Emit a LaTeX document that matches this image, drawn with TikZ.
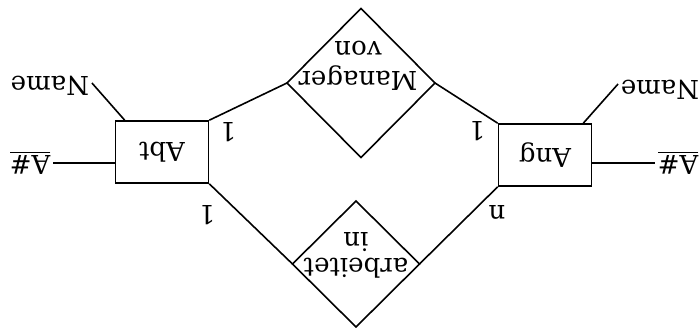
\documentclass[tikz,border=0pt]{standalone}
\usepackage{fontspec}
\setmainfont{DejaVu Serif}
\usetikzlibrary{shapes.geometric}

\tikzset{
  entity/.style={draw, rectangle, minimum width=46.5pt, minimum height=31pt, inner sep=0pt},
  relship/.style={draw, diamond, inner sep=0pt, outer sep=0pt},
  attr/.style={inner sep=1pt},
  card/.style={inner sep=0pt}
}

\begin{document}
\begin{tikzpicture}[x=0.5pt, y=-0.5pt, rotate=180, transform shape, line width=0.8pt,
  every node/.style={font=\fontsize{13}{15}\selectfont}]
  \useasboundingbox (0,0) rectangle (700,327);

  % entities
  \node[entity] (ang) at (155,172) {Ang};
  \node[entity] (abt) at (538,175) {Abt};

  % relationships
  \node[relship, minimum width=74pt, minimum height=74.5pt] (mgr) at (339,244) {};
  \node[relship, minimum width=63.5pt, minimum height=63pt] (arb) at (344,63) {};
  \node[align=center] (mgrtext) at (342,261) {Manager\\von};
  \node[align=center] (arbtext) at (344,72) {arbeitet\\[-2pt]in};

  % attributes
  \node[attr] (abtkey) at (670,164) {\underline{A\#}};
  \node[attr] (abtname) at (650,241) {Name};
  \node[attr] (angkey) at (22,164) {\underline{A\#}};
  \node[attr] (angname) at (40,237) {Name};

  \draw (abt.south west) -- (mgr.east);
  \draw (abt.north west) -- (arb.east);
  \draw (ang.south east) -- (mgr.west);
  \draw (ang.north east) -- (arb.west);

  \draw (abtkey.west) -- (abtkey.west -| abt.east);
  \draw (angkey.east) -- (angkey.east -| ang.west);
  \draw ([xshift=-5pt]abt.south east) -- ([yshift=-1.5pt]abtname.west);
  \draw ([xshift=4.5pt]ang.south west) -- ([yshift=-3pt]angname.east);

  % cardinalities
  \node[card] (c1) at (472,195) {1};
  \node[card] (c2) at (493,112) {1};
  \node[card] (c3) at (223,196) {1};
  \node[card] (c4) at (203,115) {n};
\end{tikzpicture}
\end{document}
